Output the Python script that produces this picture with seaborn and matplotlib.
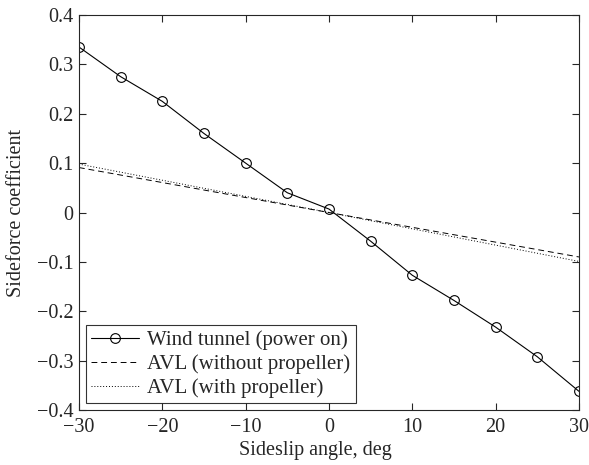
import numpy as np
import pandas as pd
import matplotlib
matplotlib.use("Agg")
import matplotlib.pyplot as plt
import seaborn as sns

beta_wt = [-30, -25, -20, -15, -10, -5, 0, 5, 10, 15, 20, 25, 30]
cy_wt = [0.335, 0.275, 0.225, 0.160, 0.100, 0.040, 0.007, -0.058, -0.127, -0.178, -0.232, -0.292, -0.362]
beta_avl = [-30, 0, 30]
cy_avl_noprop = [0.091, 0.0, -0.090]
cy_avl_prop = [0.098, 0.0, -0.099]

sns.set_style("ticks")
plt.rcParams['font.family'] = ['Liberation Serif', 'DejaVu Serif']
plt.rcParams['xtick.direction'] = 'in'
plt.rcParams['ytick.direction'] = 'in'

fig, ax = plt.subplots(figsize=(5.89, 4.65), dpi=100)
fig.subplots_adjust(left=0.134, right=0.983, top=0.968, bottom=0.118)

df_wt = pd.DataFrame({"x": beta_wt, "y": cy_wt})
df1 = pd.DataFrame({"x": beta_avl, "y": cy_avl_noprop})
df2 = pd.DataFrame({"x": beta_avl, "y": cy_avl_prop})

sns.lineplot(data=df_wt, x="x", y="y", ax=ax, color="black", lw=0.8, marker="o",
             markersize=7, markerfacecolor="none", markeredgecolor="black", markeredgewidth=0.8,
             label="Wind tunnel (power on)")
sns.lineplot(data=df1, x="x", y="y", ax=ax, color="black", lw=0.7, linestyle=(0, (6, 4)),
             label="AVL (without propeller)")
sns.lineplot(data=df2, x="x", y="y", ax=ax, color="black", lw=0.7, linestyle=(0, (1, 2)),
             label="AVL (with propeller)")

ax.set_xlim(-30, 30)
ax.set_ylim(-0.4, 0.4)
ax.set_xticks([-30, -20, -10, 0, 10, 20, 30])
ax.set_yticks([-0.4, -0.3, -0.2, -0.1, 0, 0.1, 0.2, 0.3, 0.4])
ax.set_xticklabels(["\u221230", "\u221220", "\u221210", "0", "10", "20", "30"])
ax.set_yticklabels(["\u22120.4", "\u22120.3", "\u22120.2", "\u22120.1", "0", "0.1", "0.2", "0.3", "0.4"])
ax.tick_params(axis='both', labelsize=14.5, top=True, right=True, length=5, width=0.8)
ax.tick_params(axis='x', pad=6)
ax.tick_params(axis='y', pad=4)
for s in ax.spines.values():
    s.set_linewidth(0.8)
    s.set_visible(True)
ax.set_xlabel("Sideslip angle, deg", fontsize=14.5)
ax.xaxis.set_label_coords(0.472, -0.077)
ax.set_ylabel("Sideforce coefficient", fontsize=14.5)
ax.yaxis.set_label_coords(-0.106, 0.5)

leg = ax.legend(loc="lower left", fontsize=15, frameon=True, fancybox=False,
                edgecolor="black", borderaxespad=0.33, handlelength=2.3,
                borderpad=0.25, labelspacing=0.2, handletextpad=0.4)
leg.get_frame().set_linewidth(0.8)

fig.savefig("out.png", dpi=100)
